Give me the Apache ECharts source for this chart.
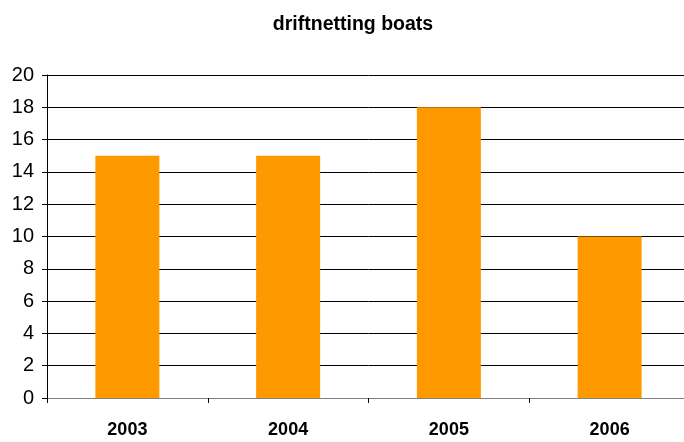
<!DOCTYPE html>
<html><head><meta charset="utf-8">
<script src="https://cdn.jsdelivr.net/npm/echarts@6/dist/echarts.min.js"></script>
<style>html,body{margin:0;padding:0;background:#fff;overflow:hidden}#c{width:691px;height:442px}</style>
</head><body><div id="c"></div>
<script>
const categories = ['2003', '2004', '2005', '2006'];
const boats = [15, 15, 18, 10];
const chart = echarts.init(document.getElementById('c'), null, {renderer: 'canvas'});
chart.setOption({
  animation: false,
  backgroundColor: '#fff',
  title: {
    text: 'driftnetting boats', left: 348, top: 10, textAlign: 'center',
    textStyle: {fontFamily: 'Liberation Sans', fontWeight: 'bold', fontSize: 19.5, color: '#000'}
  },
  grid: {left: 47, top: 75, width: 643, height: 323},
  xAxis: {
    type: 'category', data: categories,
    axisLine: {lineStyle: {color: '#808080', width: 1}},
    axisTick: {show: true, length: 5, alignWithLabel: false, lineStyle: {color: '#000'}},
    axisLabel: {fontFamily: 'Liberation Sans', fontWeight: 'bold', fontSize: 18, color: '#000', margin: 23}
  },
  yAxis: {
    type: 'value', min: 0, max: 20, interval: 2,
    axisLine: {show: true, lineStyle: {color: '#000'}},
    axisTick: {show: true, length: 5, lineStyle: {color: '#000'}},
    axisLabel: {fontFamily: 'Liberation Sans', fontSize: 20, color: '#000', margin: 13},
    splitLine: {lineStyle: {color: '#000', width: 1}}
  },
  series: [{
    type: 'bar', data: boats, barWidth: 64,
    itemStyle: {color: '#FF9900'}
  }]
});
</script></body></html>
